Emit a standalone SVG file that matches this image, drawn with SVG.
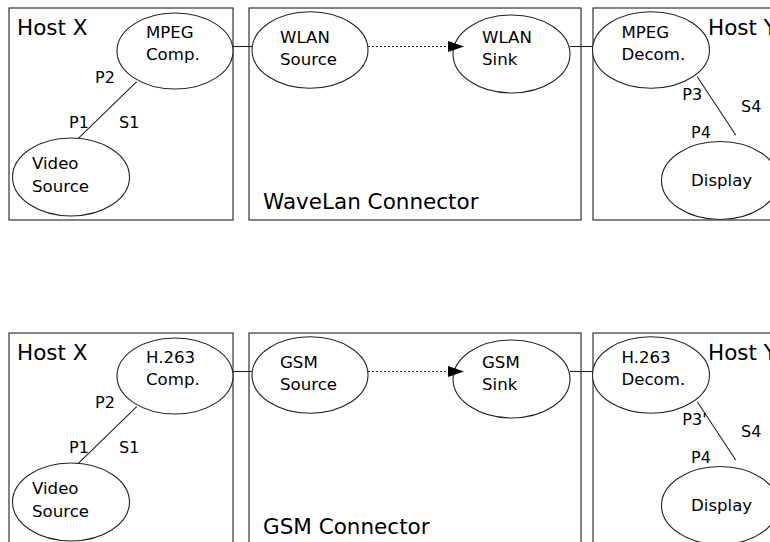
<svg xmlns="http://www.w3.org/2000/svg" width="770" height="542" viewBox="0 0 770 542">
  <style>
    .box { fill: none; stroke: #333; stroke-width: 1.2; }
    .comp { fill: #fff; stroke: #222; stroke-width: 1.1; }
    .title { font-family: "DejaVu Sans", sans-serif; font-size: 21.5px; fill: #000; }
    .label { font-family: "DejaVu Sans", sans-serif; font-size: 16.6px; fill: #000; }
    .port { font-family: "DejaVu Sans", sans-serif; font-size: 16px; fill: #000; }
    .wire { fill: none; stroke: #222; stroke-width: 1.1; }
    .link { fill: none; stroke: #222; stroke-width: 1.1; stroke-dasharray: 2 2; }
  </style>
  <defs>
    <marker id="head" viewBox="0 0 16 11" refX="16" refY="5.5" markerWidth="16" markerHeight="11" markerUnits="userSpaceOnUse" orient="auto">
      <path d="M0,0 L16,5.5 L0,11 Z" fill="#000"/>
    </marker>
  </defs>
  <rect width="770" height="542" fill="#fff"/>

  <!-- Configuration 1: MPEG over WaveLan -->
  <g id="config-wavelan">
    <g id="hostX-1">
      <rect class="box" x="9" y="8" width="224" height="212"/>
      <text class="title" x="17" y="35">Host X</text>
    </g>
    <g id="wavelan-connector">
      <rect class="box" x="249" y="8" width="332" height="212"/>
      <text class="title" x="263" y="209">WaveLan Connector</text>
    </g>
    <g id="hostY-1">
      <rect class="box" x="593" y="8" width="200" height="212"/>
      <text class="title" x="708" y="35">Host Y</text>
    </g>

    <g id="mpeg-comp">
      <ellipse class="comp" cx="175" cy="51" rx="58" ry="38"/>
      <text class="label" x="146" y="38">MPEG</text>
      <text class="label" x="146" y="60">Comp.</text>
    </g>
    <g id="video-source-1">
      <ellipse class="comp" cx="71" cy="177" rx="58.5" ry="39"/>
      <text class="label" x="32" y="169">Video</text>
      <text class="label" x="32" y="192">Source</text>
    </g>
    <g id="wlan-source">
      <ellipse class="comp" cx="310" cy="50" rx="58" ry="38.3"/>
      <text class="label" x="280" y="43">WLAN</text>
      <text class="label" x="280" y="65">Source</text>
    </g>
    <g id="wlan-sink">
      <ellipse class="comp" cx="511.5" cy="54" rx="58.5" ry="39"/>
      <text class="label" x="482" y="42.5">WLAN</text>
      <text class="label" x="482" y="65">Sink</text>
    </g>
    <g id="mpeg-decom">
      <ellipse class="comp" cx="651" cy="50" rx="58.5" ry="38.3"/>
      <text class="label" x="621.5" y="38">MPEG</text>
      <text class="label" x="621.5" y="60">Decom.</text>
    </g>
    <g id="display-1">
      <ellipse class="comp" cx="720" cy="180.5" rx="58.5" ry="39"/>
      <text class="label" x="691" y="186">Display</text>
    </g>

    <g id="connectors-1">
      <line class="wire" x1="136.7" y1="81.7" x2="78.3" y2="138.3"/>
      <line class="wire" x1="233" y1="46.5" x2="252" y2="46.5"/>
      <line class="link" x1="368" y1="46.5" x2="464" y2="46.5" marker-end="url(#head)"/>
      <line class="wire" x1="570" y1="46.5" x2="593" y2="46.5"/>
      <line class="wire" x1="697.3" y1="76.7" x2="735.7" y2="135"/>
    </g>

    <g id="ports-1">
      <text class="port" x="95" y="82.7">P2</text>
      <text class="port" x="69" y="127.7">P1</text>
      <text class="port" x="119" y="127.7">S1</text>
      <text class="port" x="682.3" y="100">P3</text>
      <text class="port" x="741" y="111.7">S4</text>
      <text class="port" x="691" y="138">P4</text>
    </g>
  </g>

  <!-- Configuration 2: H.263 over GSM -->
  <g id="config-gsm" transform="translate(0,325)">
    <g id="hostX-2">
      <rect class="box" x="9" y="8" width="224" height="212"/>
      <text class="title" x="17" y="35">Host X</text>
    </g>
    <g id="gsm-connector">
      <rect class="box" x="249" y="8" width="332" height="212"/>
      <text class="title" x="263" y="209">GSM Connector</text>
    </g>
    <g id="hostY-2">
      <rect class="box" x="593" y="8" width="200" height="212"/>
      <text class="title" x="708" y="35">Host Y</text>
    </g>

    <g id="h263-comp">
      <ellipse class="comp" cx="175" cy="51" rx="58" ry="38"/>
      <text class="label" x="146" y="38">H.263</text>
      <text class="label" x="146" y="60">Comp.</text>
    </g>
    <g id="video-source-2">
      <ellipse class="comp" cx="71" cy="177" rx="58.5" ry="39"/>
      <text class="label" x="32" y="169">Video</text>
      <text class="label" x="32" y="192">Source</text>
    </g>
    <g id="gsm-source">
      <ellipse class="comp" cx="310" cy="50" rx="58" ry="38.3"/>
      <text class="label" x="280" y="43">GSM</text>
      <text class="label" x="280" y="65">Source</text>
    </g>
    <g id="gsm-sink">
      <ellipse class="comp" cx="511.5" cy="54" rx="58.5" ry="39"/>
      <text class="label" x="482" y="42.5">GSM</text>
      <text class="label" x="482" y="65">Sink</text>
    </g>
    <g id="h263-decom">
      <ellipse class="comp" cx="651" cy="50" rx="58.5" ry="38.3"/>
      <text class="label" x="621.5" y="38">H.263</text>
      <text class="label" x="621.5" y="60">Decom.</text>
    </g>
    <g id="display-2">
      <ellipse class="comp" cx="720" cy="180.5" rx="58.5" ry="39"/>
      <text class="label" x="691" y="186">Display</text>
    </g>

    <g id="connectors-2">
      <line class="wire" x1="136.7" y1="81.7" x2="78.3" y2="138.3"/>
      <line class="wire" x1="233" y1="46.5" x2="252" y2="46.5"/>
      <line class="link" x1="368" y1="46.5" x2="464" y2="46.5" marker-end="url(#head)"/>
      <line class="wire" x1="570" y1="46.5" x2="593" y2="46.5"/>
      <line class="wire" x1="697.3" y1="76.7" x2="735.7" y2="135"/>
    </g>

    <g id="ports-2">
      <text class="port" x="95" y="82.7">P2</text>
      <text class="port" x="69" y="127.7">P1</text>
      <text class="port" x="119" y="127.7">S1</text>
      <text class="port" x="682.3" y="100">P3'</text>
      <text class="port" x="741" y="111.7">S4</text>
      <text class="port" x="691" y="138">P4</text>
    </g>
  </g>
</svg>
